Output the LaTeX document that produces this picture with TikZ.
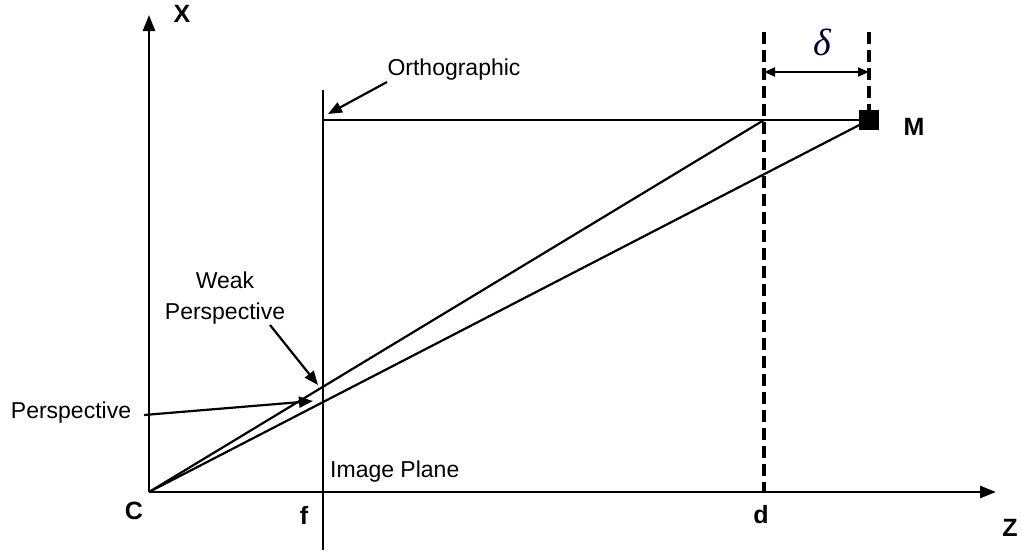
\documentclass[tikz,border=0pt]{standalone}
\usepackage{fontspec}
\setmainfont{Liberation Sans}
\newfontfamily\deltafont{Liberation Serif}
\usetikzlibrary{arrows.meta}
\begin{document}
\begin{tikzpicture}[x=1pt,y=-1pt,
  ln/.style={line width=2.2pt},
  ax/.style={line width=2.5pt,-{Triangle[length=16pt,width=12pt]}},
  lbl/.style={font=\fontsize{23}{31}\selectfont,inner sep=0pt},
  blbl/.style={font=\fontsize{25}{29}\selectfont\bfseries,inner sep=0pt},
  pointer/.style={line width=2.2pt,-{Triangle[length=14pt,width=11pt]}},
  dsh/.style={line width=3.2pt,dash pattern=on 12pt off 6pt},
  sq/.style={fill=black,minimum size=20pt,inner sep=0pt}]
\useasboundingbox (0,0) rectangle (1022,554);
% coordinates
\coordinate (O) at (149,492);
\coordinate (Xt) at (149,15);
\coordinate (Zt) at (996,492);
\coordinate (IPt) at (323,90);
\coordinate (IPb) at (323,550);
\coordinate (IPo) at (323,120);
\coordinate (D1t) at (764,32);
\coordinate (D1b) at (764,492);
\coordinate (D2t) at (869,32);
\coordinate (D2b) at (869,112);
\coordinate (Dm) at (764,120);
\coordinate (Da) at (764,72);
\coordinate (Db) at (869,72);
\coordinate (Mc) at (869,120);
% dashed lines
\draw[dsh] (D1t) -- (D1b);
\draw[dsh] (D2t) -- (D2b);
% rays
\draw[ln] (IPo) -- (Mc);
\draw[ln] (O) -- (Dm);
\draw[ln] (O) -- (Mc);
\node[sq] (M) at (Mc) {};
% image plane
\draw[ln] (IPt) -- (IPb);
% axes
\draw[ax] (O) -- (Xt);
\draw[ax] (O) -- (Zt);
% delta
\draw[line width=1.8pt,{Triangle[length=11pt,width=9pt]}-{Triangle[length=11pt,width=9pt]}] (Da) -- (Db);
\node[inner sep=0pt,font=\fontsize{38}{42}\deltafont\itshape,text=black!80!blue] (delta) at (822,42) {δ};
% labels
\node[blbl] (lX) at (182,14) {X};
\node[blbl] (lZ) at (1010,528) {Z};
\node[blbl] (lC) at (134,511) {C};
\node[blbl] (lf) at (304,515) {f};
\node[blbl] (ld) at (761,515) {d};
\node[blbl] (lM) at (914,127) {M};
\node[lbl,anchor=west] (lIP) at (330,472) {Image Plane};
\node[lbl] (lO) at (454,70) {Orthographic};
\node[lbl,align=center] (lW) at (225,298) {Weak\\Perspective};
\node[lbl] (lP) at (71,413) {Perspective};
% pointers
\coordinate (pO) at (328,114);
\coordinate (pW) at (318,385);
\coordinate (pP) at (313,401);
\coordinate (sW) at (270,325);
\coordinate (sO) at (387,82);
\coordinate (sP) at (144,415);
\draw[pointer] (sO) -- (pO);
\draw[pointer] (sW) -- (pW);
\draw[pointer] (sP) -- (pP);
\end{tikzpicture}
\end{document}
